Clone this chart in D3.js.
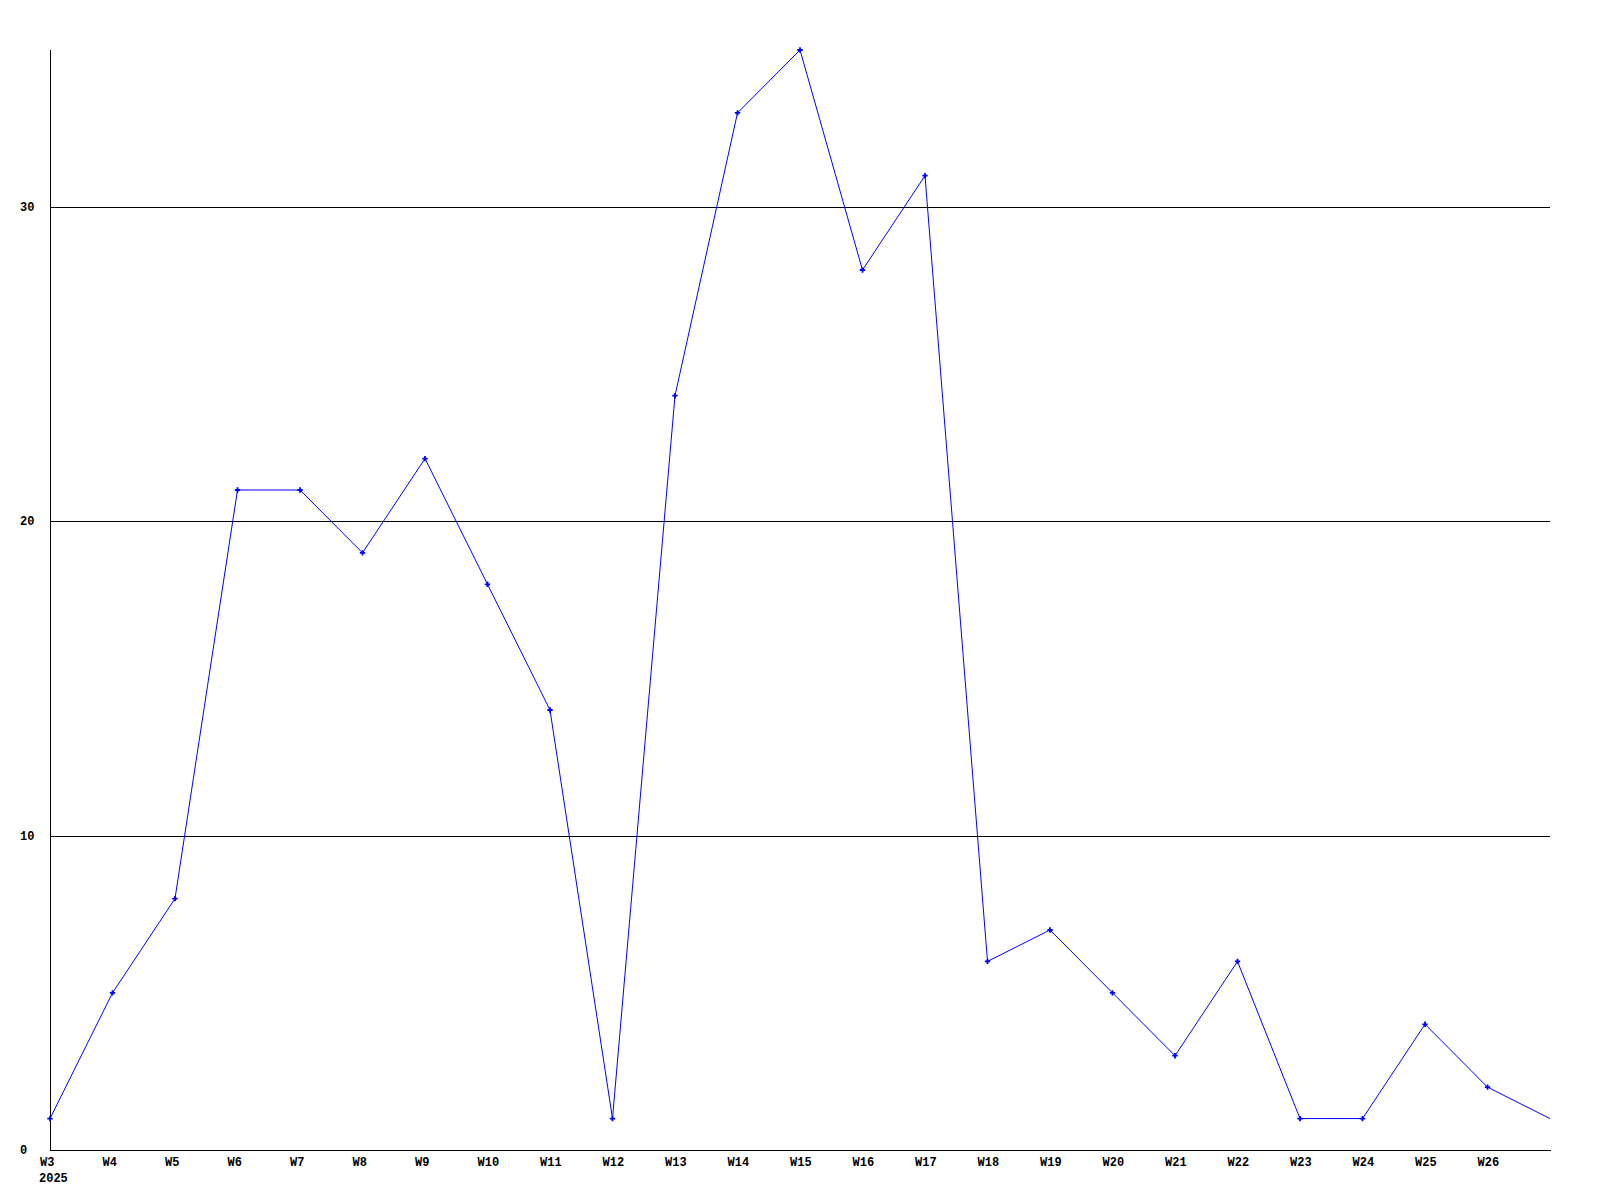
<!DOCTYPE html>
<html>
<head>
<meta charset="utf-8">
<script src="https://cdn.jsdelivr.net/npm/d3@7"></script>
<style>
  html, body { margin: 0; padding: 0; background: #fff; }
  svg { display: block; }
  text { font-family: "Liberation Mono", "DejaVu Sans Mono", monospace; font-weight: bold; font-size: 12px; fill: #000; }
</style>
</head>
<body>
<svg id="chart" width="1600" height="1200"></svg>
<script>
const weeks = ["W3","W4","W5","W6","W7","W8","W9","W10","W11","W12","W13","W14","W15","W16","W17","W18","W19","W20","W21","W22","W23","W24","W25","W26","W27"];
const counts = [1,5,8,21,21,19,22,18,14,1,24,33,35,28,31,6,7,5,3,6,1,1,4,2,1];
const yTicks = [0,10,20,30];
const yearLabel = "2025";

(function () {
const svg = d3.select("#chart");
const pLeft = 50, pRight = 1550, pTop = 50, pBottom = 1150;

const x = d3.scalePoint().domain(weeks).range([pLeft, pRight]);
const y = d3.scaleLinear().domain([0, 35]).range([pBottom, pTop]);

// gridlines
svg.append("g").selectAll("line").data(yTicks.filter(d => d > 0)).join("line")
  .attr("x1", pLeft).attr("x2", pRight)
  .attr("y1", d => Math.round(y(d)) + 0.5).attr("y2", d => Math.round(y(d)) + 0.5)
  .attr("stroke", "#000").attr("stroke-width", 1);

// axes lines
svg.append("line").attr("x1", pLeft + 0.5).attr("x2", pLeft + 0.5).attr("y1", pTop).attr("y2", pBottom + 1)
  .attr("stroke", "#000");
svg.append("line").attr("x1", pLeft).attr("x2", pRight + 1).attr("y1", pBottom + 0.5).attr("y2", pBottom + 0.5)
  .attr("stroke", "#000");

// y labels
svg.append("g").selectAll("text").data(yTicks).join("text")
  .attr("x", 20).attr("y", d => Math.round(y(d)) + 4)
  .text(d => d);

// x labels (last week not labelled)
svg.append("g").selectAll("text").data(weeks.slice(0, -1)).join("text")
  .attr("x", d => x(d) - 10).attr("y", 1166)
  .text(d => d);
svg.append("text").attr("x", x(weeks[0]) - 11).attr("y", 1182).text(yearLabel);

// data line
const data = weeks.map((w, i) => ({w, v: counts[i]}));
svg.append("path").datum(data)
  .attr("fill", "none").attr("stroke", "#0000ff").attr("stroke-width", 1)
  .attr("d", d3.line().x(d => x(d.w)).y(d => y(d.v)));

svg.append("g").selectAll("path").data(data.slice(0, -1)).join("path")
  .attr("transform", d => `translate(${x(d.w)},${y(d.v)})`)
  .attr("d", d3.symbol().type(d3.symbolCross).size(16))
  .attr("fill", "#0000ff");
})();
</script>
</body>
</html>
